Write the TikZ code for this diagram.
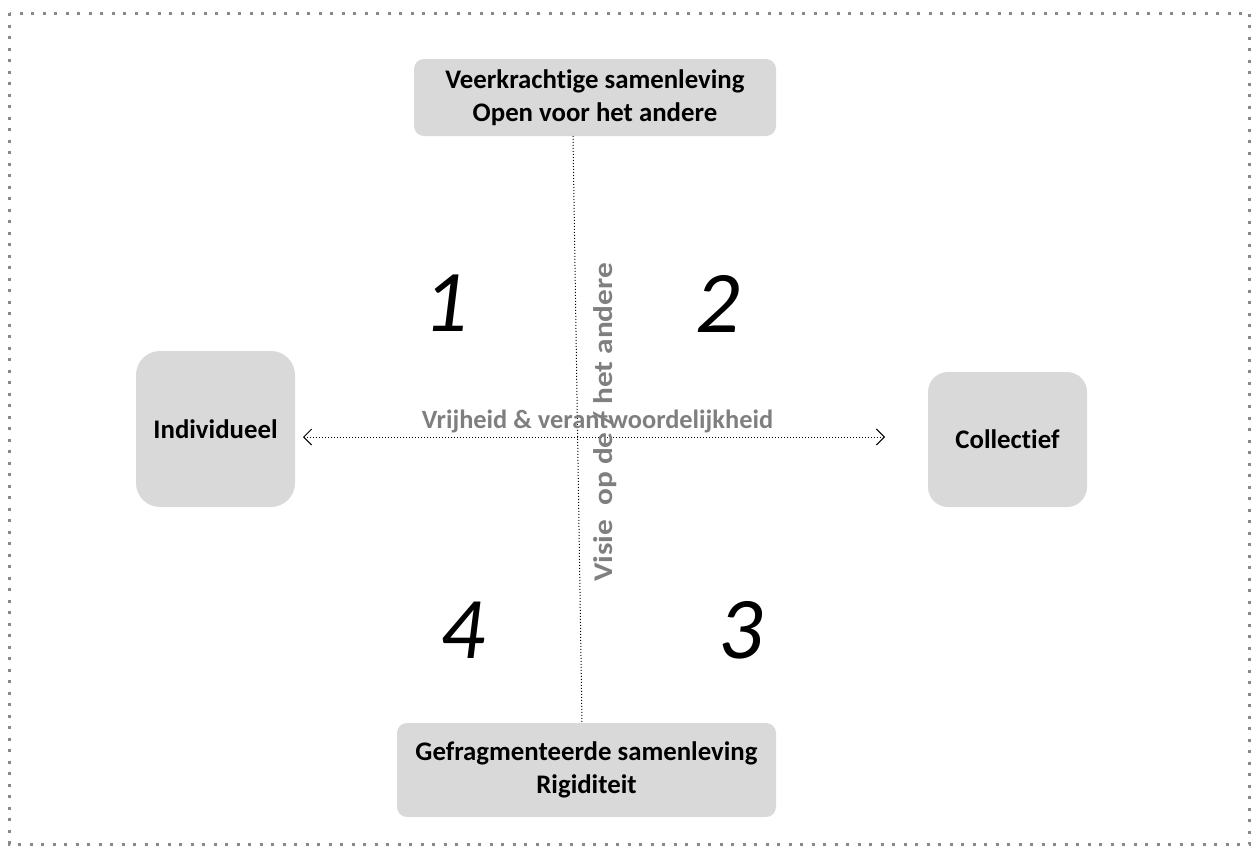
\documentclass[tikz,border=0pt]{standalone}
\usepackage{fontspec}
\setmainfont{Carlito}[Ligatures=NoCommon]
\usetikzlibrary{arrows.meta}
\definecolor{boxgray}{HTML}{D9D9D9}
\definecolor{axisgray}{HTML}{7F7F7F}
\definecolor{framegray}{HTML}{898989}

\begin{document}
\begin{tikzpicture}[x=0.5pt,y=-0.5pt,
  box/.style={rectangle,fill=boxgray,align=center,inner sep=0pt,font=\fontsize{13.4}{16.5}\selectfont\bfseries},
  quad/.style={anchor=base,inner sep=0pt,font=\fontsize{44}{44}\selectfont\itshape},
  axis/.style={densely dotted,line width=0.5pt},
  axislabel/.style={anchor=base,inner sep=0pt,text=axisgray,font=\fontsize{13.2}{16.5}\selectfont\bfseries}]
\useasboundingbox (0,0) rectangle (1254,846);
\draw[framegray,line width=1.5pt,dash pattern=on 1.5pt off 4.25pt] (9.5,13) rectangle (1249.5,844);
\node[box,rounded corners=5pt,minimum width=181pt,minimum height=38.5pt] (veer) at (595,97.5) {Veerkrachtige samenleving\\Open voor het andere};
\node[box,rounded corners=5pt,minimum width=189.5pt,minimum height=47pt] (frag) at (586.5,770) {Gefragmenteerde samenleving\\Rigiditeit};
\node[box,rounded corners=12pt,minimum width=79.5pt,minimum height=78pt] (indiv) at (215.5,429) {Individueel};
\node[box,rounded corners=10pt,minimum width=79.5pt,minimum height=67.5pt] (coll) at (1007.5,439.5) {Collectief};
\coordinate (vt) at (573,136);
\coordinate (vb) at (582,723);
\coordinate (hl) at (303,437);
\coordinate (hr) at (885,437);
\draw[axis] (vt) -- (vb);
\draw[axis,{Straight Barb[length=4pt,width=8pt]}-{Straight Barb[length=4pt,width=8pt]}] (hl) -- (hr);
\node[axislabel] (vrij) at (597.5,428) {Vrijheid \& verantwoordelijkheid};
\node[axislabel,rotate=90,xscale=1.16,font=\fontsize{13.5}{16.5}\selectfont\bfseries] (visie) at (612,422.5) {Visie\ \ op de / het andere};
\node[quad] (q1) at (446,331) {1};
\node[quad] (q2) at (718,332) {2};
\node[quad] (q3) at (741,658) {3};
\node[quad] (q4) at (463,658) {4};
\end{tikzpicture}
\end{document}
